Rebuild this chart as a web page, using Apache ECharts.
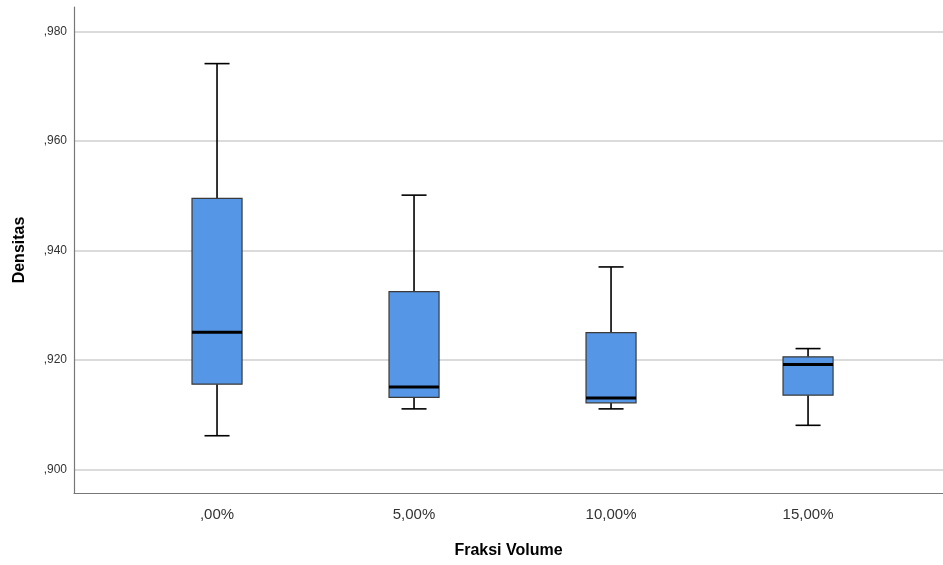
<!DOCTYPE html>
<html>
<head>
<meta charset="utf-8">
<script src="https://cdn.jsdelivr.net/npm/echarts@6/dist/echarts.min.js"></script>
<style>
  html, body { margin: 0; padding: 0; background: #fff; }
  #chart { width: 943px; height: 565px; }
</style>
</head>
<body>
<div id="chart"></div>
<script>
// kategori fraksi volume
var categories = [',00%', '5,00%', '10,00%', '15,00%'];
// statistik boxplot densitas: min, Q1, median, Q3, max
var whiskerLow = [0.9062, 0.9111, 0.9111, 0.9081];
var q1 = [0.9156, 0.9132, 0.9122, 0.9136];
var median = [0.9251, 0.9151, 0.9131, 0.9192];
var q3 = [0.9495, 0.9325, 0.9250, 0.9206];
var whiskerHigh = [0.9741, 0.9501, 0.9370, 0.9221];
var yTicks = [0.90, 0.92, 0.94, 0.96, 0.98];

var boxData = categories.map(function (c, i) {
  return [i, whiskerLow[i], q1[i], median[i], q3[i], whiskerHigh[i]];
});

var myChart = echarts.init(document.getElementById('chart'));

function renderBox(params, api) {
  var x = api.value(0);
  var pLow = api.coord([x, api.value(1)]);
  var pQ1 = api.coord([x, api.value(2)]);
  var pMed = api.coord([x, api.value(3)]);
  var pQ3 = api.coord([x, api.value(4)]);
  var pHigh = api.coord([x, api.value(5)]);
  var band = api.size([1, 0])[0];
  var halfBox = band * 0.127;
  var halfCap = halfBox / 2;
  var cx = pMed[0];
  var lineStyle = { stroke: '#000', lineWidth: 1.6 };
  return {
    type: 'group',
    children: [
      { type: 'line', shape: { x1: cx, y1: pHigh[1], x2: cx, y2: pQ3[1] }, style: lineStyle },
      { type: 'line', shape: { x1: cx, y1: pQ1[1], x2: cx, y2: pLow[1] }, style: lineStyle },
      { type: 'line', shape: { x1: cx - halfCap, y1: pHigh[1], x2: cx + halfCap, y2: pHigh[1] }, style: lineStyle },
      { type: 'line', shape: { x1: cx - halfCap, y1: pLow[1], x2: cx + halfCap, y2: pLow[1] }, style: lineStyle },
      {
        type: 'rect',
        shape: { x: cx - halfBox, y: pQ3[1], width: halfBox * 2, height: pQ1[1] - pQ3[1] },
        style: { fill: '#5596e6', stroke: '#3a3a3a', lineWidth: 1.2 }
      },
      { type: 'line', shape: { x1: cx - halfBox, y1: pMed[1], x2: cx + halfBox, y2: pMed[1] }, style: { stroke: '#000', lineWidth: 3 } }
    ]
  };
}

var option = {
  backgroundColor: '#fff',
  animation: false,
  grid: { left: 74, right: 0, top: 7, bottom: 72, outerBoundsMode: 'none', containLabel: false },
  xAxis: {
    type: 'value',
    min: -0.726,
    max: 3.685,
    name: 'Fraksi Volume',
    nameLocation: 'middle',
    nameGap: 50,
    nameTextStyle: { color: '#000', fontSize: 16, fontWeight: 'bold', fontFamily: 'Liberation Sans' },
    axisLine: { show: true, onZero: false, lineStyle: { color: '#777', width: 1.2 } },
    axisTick: { show: false, customValues: [0, 1, 2, 3] },
    splitLine: { show: false },
    axisLabel: {
      customValues: [0, 1, 2, 3],
      margin: 14,
      color: '#333',
      fontSize: 15,
      fontFamily: 'Liberation Sans',
      formatter: function (v) { return categories[Math.round(v)]; }
    }
  },
  yAxis: {
    type: 'value',
    min: 0.89575,
    max: 0.98443,
    name: 'Densitas',
    nameLocation: 'middle',
    nameGap: 46,
    nameRotate: 90,
    nameTextStyle: { color: '#000', fontSize: 16, fontWeight: 'bold', fontFamily: 'Liberation Sans' },
    axisLine: { show: true, onZero: false, lineStyle: { color: '#777', width: 1.2 } },
    axisTick: { show: false, customValues: yTicks },
    splitLine: { show: true, lineStyle: { color: '#cfcfcf', width: 1.5 } },
    axisLabel: {
      customValues: yTicks,
      margin: 7,
      color: '#333',
      fontSize: 12,
      fontFamily: 'Liberation Sans',
      formatter: function (v) { return ',' + v.toFixed(3).split('.')[1]; }
    }
  },
  series: [{
    type: 'custom',
    renderItem: renderBox,
    encode: { x: 0, y: [1, 2, 3, 4, 5] },
    data: boxData,
    z: 5
  }]
};
myChart.setOption(option);
</script>
</body>
</html>
